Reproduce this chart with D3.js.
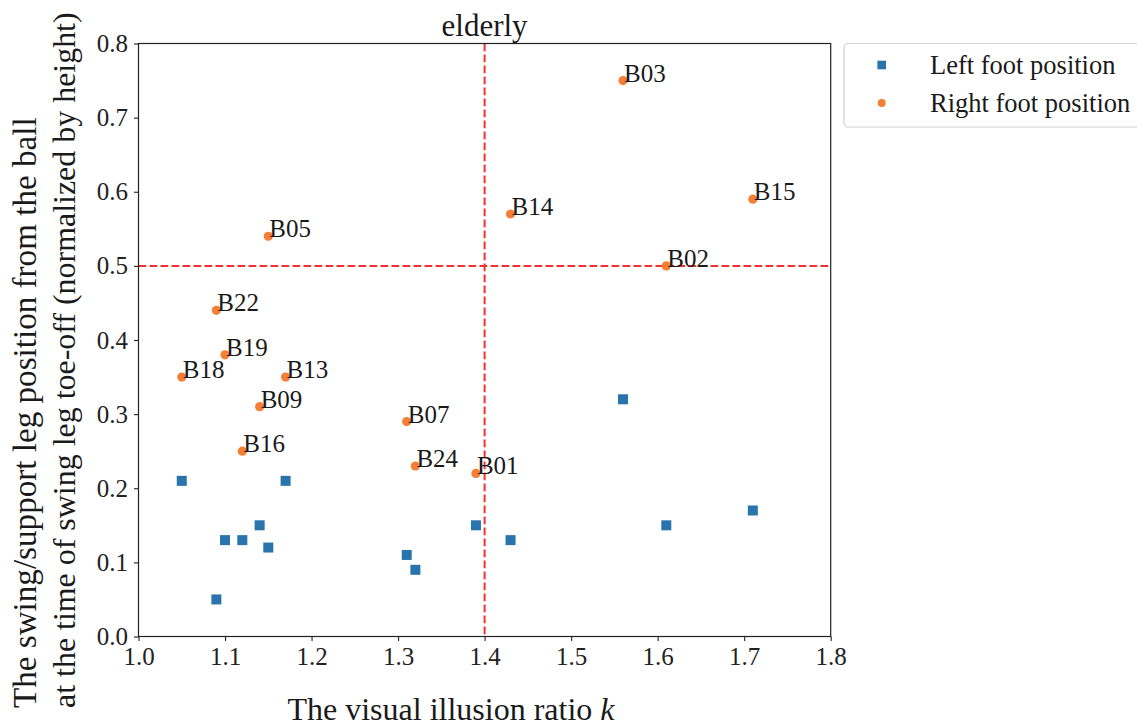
<!DOCTYPE html>
<html>
<head>
<meta charset="utf-8">
<script src="https://cdn.jsdelivr.net/npm/d3@7"></script>
<style>
  html, body { margin: 0; padding: 0; background: #fff; }
  svg { display: block; font-family: "Liberation Serif", "Times New Roman", serif; }
</style>
</head>
<body>
<svg id="chart" width="1137" height="726"></svg>
<script>
// Subjects (elderly group) and their visual illusion ratio k
const subjects = ["B01", "B02", "B03", "B05", "B07", "B09", "B13", "B14", "B15", "B16", "B18", "B19", "B22", "B24"];
const kRatio   = [1.39, 1.61, 1.56, 1.15, 1.31, 1.14, 1.17, 1.43, 1.71, 1.12, 1.05, 1.10, 1.09, 1.32];
// Foot position from the ball at swing-leg toe-off, normalized by height
const leftFoot  = [0.15, 0.15, 0.32, 0.12, 0.11, 0.15, 0.21, 0.13, 0.17, 0.13, 0.21, 0.13, 0.05, 0.09];
const rightFoot = [0.22, 0.50, 0.75, 0.54, 0.29, 0.31, 0.35, 0.57, 0.59, 0.25, 0.35, 0.38, 0.44, 0.23];

const xTicks = [1.0, 1.1, 1.2, 1.3, 1.4, 1.5, 1.6, 1.7, 1.8];
const yTicks = [0.0, 0.1, 0.2, 0.3, 0.4, 0.5, 0.6, 0.7, 0.8];
const kThreshold = 1.4;
const posThreshold = 0.5;
const seriesNames = ["Left foot position", "Right foot position"];

const BLUE = "#2a74ad";
const ORANGE = "#f47f35";
const RED = "#f23030";

const svg = d3.select("#chart");
const plot = { left: 138.5, right: 830.7, top: 43.5, bottom: 636.5 };

const x = d3.scaleLinear().domain([1.0, 1.8]).range([plot.left, plot.right]);
const y = d3.scaleLinear().domain([0.0, 0.8]).range([plot.bottom, plot.top]);

// reference lines
svg.append("line")
  .attr("x1", x(kThreshold)).attr("x2", x(kThreshold))
  .attr("y1", y(0.8)).attr("y2", y(0))
  .attr("stroke", RED).attr("stroke-width", 2).attr("stroke-dasharray", "7.7,3.3");
svg.append("line")
  .attr("x1", x(1.0)).attr("x2", x(1.8))
  .attr("y1", y(posThreshold)).attr("y2", y(posThreshold))
  .attr("stroke", RED).attr("stroke-width", 2).attr("stroke-dasharray", "7.7,3.3");

// axes
const xAxis = d3.axisBottom(x).tickValues(xTicks).tickFormat(d3.format(".1f"))
  .tickSizeInner(4.5).tickSizeOuter(0).tickPadding(6);
const yAxis = d3.axisLeft(y).tickValues(yTicks).tickFormat(d3.format(".1f"))
  .tickSizeInner(4.5).tickSizeOuter(0).tickPadding(6);

const gx = svg.append("g").attr("transform", `translate(0,${plot.bottom})`).call(xAxis);
const gy = svg.append("g").attr("transform", `translate(${plot.left},0)`).call(yAxis);
[gx, gy].forEach(g => {
  g.select(".domain").remove();
  g.selectAll(".tick line").attr("stroke", "#222").attr("stroke-width", 1.1);
  g.selectAll(".tick text").attr("font-size", 25).attr("fill", "#222")
    .attr("font-family", "Liberation Serif, Times New Roman, serif");
});
gx.selectAll(".tick text").attr("dy", "0.71em");

// frame
svg.append("rect")
  .attr("x", plot.left).attr("y", plot.top)
  .attr("width", plot.right - plot.left).attr("height", plot.bottom - plot.top)
  .attr("fill", "none").attr("stroke", "#222").attr("stroke-width", 1.2);

// left foot markers
svg.append("g").selectAll("rect")
  .data(kRatio.map((k, i) => ({ k, v: leftFoot[i] })))
  .join("rect")
  .attr("x", d => x(d.k) - 5).attr("y", d => y(d.v) - 5)
  .attr("width", 10).attr("height", 10)
  .attr("fill", BLUE);

// right foot markers
svg.append("g").selectAll("circle")
  .data(kRatio.map((k, i) => ({ k, v: rightFoot[i] })))
  .join("circle")
  .attr("cx", d => x(d.k)).attr("cy", d => y(d.v)).attr("r", 4.6)
  .attr("fill", ORANGE);

// subject labels
svg.append("g").selectAll("text")
  .data(subjects.map((s, i) => ({ s, k: kRatio[i], v: rightFoot[i] })))
  .join("text")
  .attr("x", d => x(d.k) + 1).attr("y", d => y(d.v) + 1)
  .attr("font-size", 25).attr("fill", "#1a1a1a")
  .text(d => d.s);

// title
svg.append("text")
  .attr("x", (plot.left + plot.right) / 2).attr("y", 36)
  .attr("text-anchor", "middle").attr("font-size", 31).attr("fill", "#1a1a1a")
  .text("elderly");

// x label
const xl = svg.append("text")
  .attr("x", 451).attr("y", 720)
  .attr("text-anchor", "middle").attr("font-size", 32).attr("fill", "#1a1a1a");
xl.append("tspan").text("The visual illusion ratio ");
xl.append("tspan").attr("font-style", "italic").text("k");

// y label (two lines, left-aligned along the rotated baseline)
const yLines = [
  "The swing/support leg position from the ball",
  "at the time of swing leg toe-off (normalized by height)"
];
const yLineX = [36, 75];
const yLineLen = [591, 696];   // run length of each line along the axis
yLines.forEach((t, i) => {
  const el = svg.append("text")
    .attr("transform", `translate(${yLineX[i]},708) rotate(-90)`)
    .attr("text-anchor", "start").attr("font-size", 32).attr("fill", "#1a1a1a")
    .text(t);
  const w = el.node().getComputedTextLength();
  if (w > 0) el.attr("font-size", 32 * yLineLen[i] / w);
});

// legend
const lg = svg.append("g");
lg.append("rect")
  .attr("x", 844).attr("y", 43.5).attr("width", 320).attr("height", 83.5)
  .attr("rx", 4).attr("fill", "#fff").attr("stroke", "#d0d0d0").attr("stroke-width", 1.2);
lg.append("rect")
  .attr("x", 881.7 - 4.3).attr("y", 65 - 4.3).attr("width", 8.6).attr("height", 8.6)
  .attr("fill", BLUE);
lg.append("circle").attr("cx", 881.7).attr("cy", 103).attr("r", 4).attr("fill", ORANGE);
lg.selectAll("text.lab")
  .data(seriesNames)
  .join("text")
  .attr("class", "lab")
  .attr("x", 930).attr("y", (d, i) => 73.5 + i * 38)
  .attr("font-size", 26.5).attr("fill", "#1a1a1a")
  .text(d => d);
</script>
</body>
</html>
